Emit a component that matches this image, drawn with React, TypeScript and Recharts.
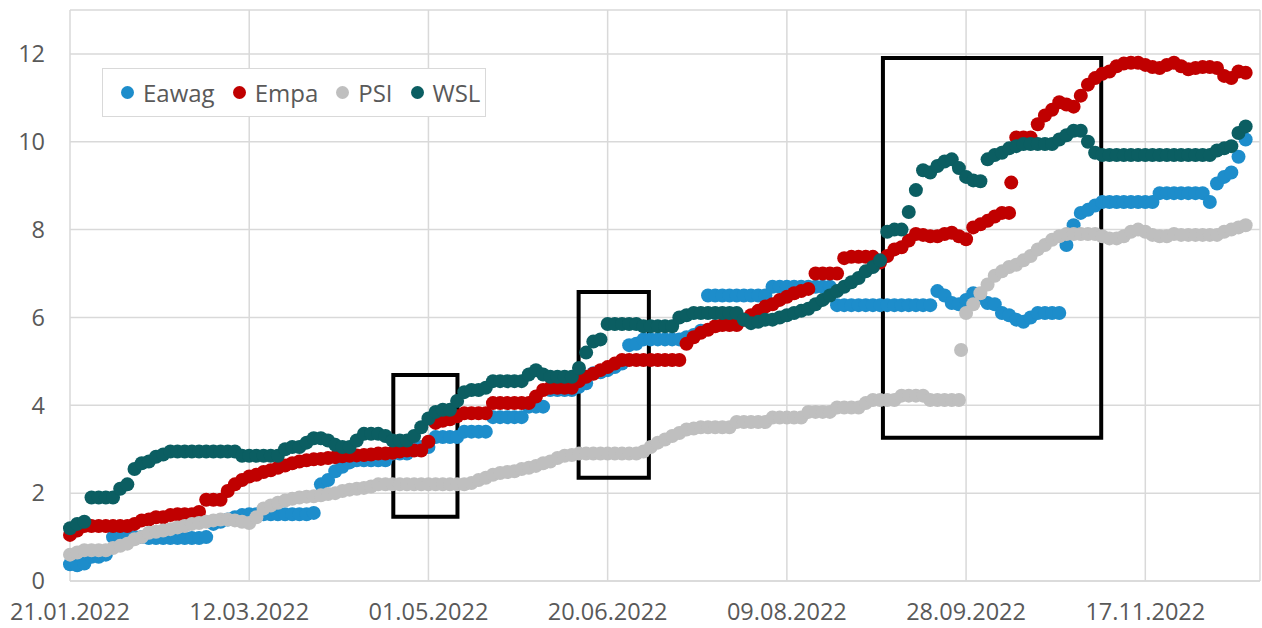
import { CartesianGrid, ReferenceArea, Scatter, ScatterChart, XAxis, YAxis } from "recharts";

// sample days counted from 21.01.2022, one reading every second day
const DAYS = [
  0, 2, 4, 6, 8, 10, 12, 14, 16, 18,
  20, 22, 24, 26, 28, 30, 32, 34, 36, 38,
  40, 42, 44, 46, 48, 50, 52, 54, 56, 58,
  60, 62, 64, 66, 68, 70, 72, 74, 76, 78,
  80, 82, 84, 86, 88, 90, 92, 94, 96, 98,
  100, 102, 104, 106, 108, 110, 112, 114, 116, 118,
  120, 122, 124, 126, 128, 130, 132, 134, 136, 138,
  140, 142, 144, 146, 148, 150, 152, 154, 156, 158,
  160, 162, 164, 166, 168, 170, 172, 174, 176, 178,
  180, 182, 184, 186, 188, 190, 192, 194, 196, 198,
  200, 202, 204, 206, 208, 210, 212, 214, 216, 218,
  220, 222, 224, 226, 228, 230, 232, 234, 236, 238,
  240, 242, 244, 246, 248, 250, 252, 254, 256, 258,
  260, 262, 264, 266, 268, 270, 272, 274, 276, 278,
  280, 282, 284, 286, 288, 290, 292, 294, 296, 298,
  300, 302, 304, 306, 308, 310, 312, 314, 316, 318,
  320, 322, 324, 326, 328,
];

const EAWAG = [
  0.38, 0.36, 0.4, 0.55, 0.55, 0.6, 1.0, 1.0, 1.0, 1.0,
  1.0, 0.98, 0.98, 0.98, 0.98, 0.98, 0.98, 0.98, 0.98, 1.0,
  1.3, 1.35, 1.4, 1.45, 1.5, 1.52, 1.52, 1.52, 1.52, 1.52,
  1.52, 1.52, 1.52, 1.52, 1.55, 2.2, 2.3, 2.5, 2.6, 2.7,
  2.75, 2.75, 2.75, 2.75, 2.75, 2.9, 2.9, 2.9, 3.05, 3.05,
  3.05, 3.28, 3.28, 3.28, 3.28, 3.4, 3.4, 3.4, 3.4, 3.73,
  3.73, 3.73, 3.73, 3.73, 3.97, 3.97, 3.97, 4.35, 4.35, 4.35,
  4.35, 4.42, 4.5, 4.73, 4.75, 4.8, 4.87, 4.95, 5.37, 5.4,
  5.5, 5.5, 5.5, 5.5, 5.5, 5.5, 5.55, 5.6, 5.7, 6.5,
  6.5, 6.5, 6.5, 6.5, 6.5, 6.5, 6.5, 6.5, 6.7, 6.7,
  6.7, 6.7, 6.7, 6.7, 6.7, 6.7, 6.7, 6.28, 6.28, 6.28,
  6.28, 6.28, 6.28, 6.28, 6.28, 6.28, 6.28, 6.28, 6.28, 6.28,
  6.28, 6.6, 6.5, 6.33, 6.3, 6.4, 6.55, 6.45, 6.33, 6.3,
  6.1, 6.05, 5.95, 5.9, 6.0, 6.1, 6.1, 6.1, 6.1, 7.65,
  8.1, 8.38, 8.45, 8.55, 8.63, 8.63, 8.63, 8.63, 8.63, 8.63,
  8.63, 8.63, 8.83, 8.83, 8.83, 8.83, 8.83, 8.83, 8.83, 8.63,
  9.05, 9.2, 9.3, 9.66, 10.05,
];

const EMPA = [
  1.05, 1.15, 1.25, 1.25, 1.25, 1.25, 1.25, 1.25, 1.25, 1.3,
  1.38, 1.4, 1.45, 1.45, 1.5, 1.52, 1.52, 1.52, 1.57, 1.85,
  1.85, 1.85, 2.05, 2.2, 2.3, 2.38, 2.42, 2.48, 2.52, 2.58,
  2.63, 2.68, 2.72, 2.75, 2.77, 2.78, 2.8, 2.82, 2.84, 2.85,
  2.86, 2.87, 2.88, 2.9, 2.9, 2.92, 2.95, 2.97, 2.97, 2.97,
  3.17, 3.6, 3.65, 3.68, 3.75, 3.82, 3.82, 3.82, 3.82, 4.05,
  4.05, 4.05, 4.05, 4.05, 4.05, 4.2, 4.35, 4.4, 4.4, 4.4,
  4.4, 4.55, 4.65, 4.72, 4.8, 4.87, 4.95, 5.03, 5.03, 5.03,
  5.03, 5.03, 5.03, 5.03, 5.03, 5.03, 5.4, 5.55, 5.65, 5.72,
  5.8, 5.83, 5.83, 5.83, 5.95, 6.05, 6.15, 6.25, 6.3, 6.4,
  6.47, 6.55, 6.6, 6.65, 7.0, 7.0, 7.0, 7.0, 7.35, 7.38,
  7.38, 7.38, 7.38, 7.25, 7.4, 7.55, 7.6, 7.75, 7.9, 7.88,
  7.85, 7.85, 7.9, 7.93, 7.85, 7.78, 8.05, 8.12, 8.2, 8.3,
  8.38, 8.38, 10.1, 10.1, 10.1, 10.4, 10.6, 10.73, 10.9, 10.85,
  10.8, 11.05, 11.3, 11.45, 11.55, 11.6, 11.72, 11.78, 11.8, 11.8,
  11.75, 11.7, 11.68, 11.75, 11.8, 11.72, 11.65, 11.68, 11.7, 11.7,
  11.68, 11.5, 11.45, 11.6, 11.57,
];

const PSI = [
  0.6, 0.65, 0.7, 0.7, 0.7, 0.7, 0.75, 0.8, 0.85, 0.95,
  1.0, 1.1, 1.12, 1.15, 1.18, 1.22, 1.25, 1.3, 1.32, 1.35,
  1.38, 1.4, 1.4, 1.38, 1.35, 1.32, 1.45, 1.65, 1.72, 1.78,
  1.83, 1.87, 1.9, 1.92, 1.93, 1.95, 1.98, 2.0, 2.05, 2.08,
  2.1, 2.12, 2.15, 2.2, 2.2, 2.2, 2.2, 2.2, 2.2, 2.2,
  2.2, 2.2, 2.2, 2.2, 2.2, 2.2, 2.23, 2.3, 2.35, 2.42,
  2.46, 2.48, 2.5, 2.55, 2.58, 2.62, 2.68, 2.72, 2.8, 2.85,
  2.87, 2.9, 2.9, 2.9, 2.9, 2.9, 2.9, 2.9, 2.9, 2.9,
  2.95, 3.05, 3.15, 3.22, 3.3, 3.37, 3.45, 3.47, 3.5, 3.5,
  3.5, 3.5, 3.5, 3.62, 3.62, 3.62, 3.62, 3.62, 3.72, 3.72,
  3.72, 3.72, 3.72, 3.85, 3.85, 3.85, 3.85, 3.95, 3.95, 3.95,
  3.95, 4.05, 4.12, 4.12, 4.12, 4.12, 4.22, 4.22, 4.22, 4.22,
  4.12, 4.12, 4.12, 4.12, 4.12, 6.1, 6.3, 6.55, 6.75, 6.95,
  7.05, 7.15, 7.2, 7.3, 7.4, 7.55, 7.65, 7.77, 7.85, 7.9,
  7.9, 7.9, 7.9, 7.9, 7.85, 7.8, 7.8, 7.85, 7.95, 8.0,
  7.95, 7.88, 7.85, 7.85, 7.9, 7.88, 7.88, 7.88, 7.88, 7.88,
  7.88, 7.95, 8.0, 8.05, 8.1,
];

const WSL = [
  1.2, 1.3, 1.35, 1.9, 1.9, 1.9, 1.9, 2.1, 2.2, 2.55,
  2.68, 2.72, 2.83, 2.88, 2.95, 2.95, 2.95, 2.95, 2.95, 2.95,
  2.95, 2.95, 2.95, 2.95, 2.85, 2.85, 2.85, 2.85, 2.85, 2.85,
  3.0, 3.05, 3.05, 3.15, 3.25, 3.25, 3.2, 3.1, 3.05, 3.05,
  3.2, 3.35, 3.35, 3.35, 3.3, 3.2, 3.2, 3.2, 3.3, 3.5,
  3.7, 3.85, 3.9, 3.9, 4.1, 4.3, 4.35, 4.35, 4.4, 4.55,
  4.55, 4.55, 4.55, 4.55, 4.7, 4.8, 4.7, 4.65, 4.65, 4.65,
  4.65, 4.85, 5.2, 5.45, 5.5, 5.85, 5.85, 5.85, 5.85, 5.85,
  5.8, 5.8, 5.8, 5.8, 5.8, 6.0, 6.05, 6.1, 6.1, 6.1,
  6.1, 6.1, 6.1, 6.1, 5.95, 5.87, 5.9, 5.95, 5.95, 6.0,
  6.05, 6.1, 6.15, 6.2, 6.3, 6.4, 6.5, 6.6, 6.7, 6.8,
  6.9, 7.05, 7.15, 7.3, 7.95, 8.0, 8.0, 8.4, 8.9, 9.35,
  9.3, 9.45, 9.55, 9.6, 9.4, 9.2, 9.12, 9.1, 9.6, 9.7,
  9.75, 9.85, 9.9, 9.95, 9.95, 9.95, 9.95, 9.95, 10.05, 10.15,
  10.25, 10.25, 10.0, 9.75, 9.7, 9.7, 9.7, 9.7, 9.7, 9.7,
  9.7, 9.7, 9.7, 9.7, 9.7, 9.7, 9.7, 9.7, 9.7, 9.7,
  9.8, 9.85, 9.9, 10.2, 10.35,
];

// lone readings between the regular samples: [day, value]
const EMPA_EXTRA = [[262.6, 9.07]];
const PSI_EXTRA = [[248.6, 5.26]];

const X_TICKS = [0, 50, 100, 150, 200, 250, 300];
const Y_TICKS = [0, 2, 4, 6, 8, 10, 12];

// highlighted periods: [fromDay, toDay, low, high]
const BOXES = [
  [90.2, 108.1, 1.46, 4.69],
  [141.9, 161.5, 2.35, 6.58],
  [226.8, 287.7, 3.26, 11.91],
];

const SERIES = [
  { name: "Eawag", color: "#1d8dcb", values: EAWAG, extra: [] as number[][] },
  { name: "Empa", color: "#c00000", values: EMPA, extra: EMPA_EXTRA },
  { name: "PSI", color: "#bfbfbf", values: PSI, extra: PSI_EXTRA },
  { name: "WSL", color: "#0b5e62", values: WSL, extra: [] as number[][] },
];

const FONT = "'Open Sans', 'DejaVu Sans', sans-serif";
const TEXT = "#595959";
const GRID = "#d9d9d9";
const DOT_R = 7;

function toPoints(values: (number | null)[], extra: number[][]) {
  const points = DAYS.map((day, i) => ({ day, v: values[i] })).filter((p) => p.v != null);
  return points.concat(extra.map(([day, v]) => ({ day, v })));
}

function formatDay(day: number) {
  const d = new Date(Date.UTC(2022, 0, 21 + day));
  const dd = String(d.getUTCDate()).padStart(2, "0");
  const mm = String(d.getUTCMonth() + 1).padStart(2, "0");
  return `${dd}.${mm}.${d.getUTCFullYear()}`;
}

function Legend() {
  return (
    <div
      style={{
        position: "absolute",
        left: 102,
        top: 68,
        width: 384,
        height: 49,
        boxSizing: "border-box",
        border: `1.5px solid ${GRID}`,
        background: "#fff",
        display: "flex",
        alignItems: "center",
        paddingLeft: 18,
        fontFamily: FONT,
        fontSize: 24,
        color: TEXT,
      }}
    >
      {SERIES.map((s) => (
        <div key={s.name} style={{ display: "flex", alignItems: "center", marginRight: 18 }}>
          <span
            style={{
              width: 13,
              height: 13,
              borderRadius: "50%",
              background: s.color,
              marginRight: 9,
              display: "inline-block",
            }}
          />
          <span>{s.name}</span>
        </div>
      ))}
    </div>
  );
}

export default function App() {
  const tickStyle = { fill: TEXT, fontSize: 23.5, fontFamily: FONT };
  return (
    <div style={{ position: "absolute", left: 0, top: 0, width: 1262, height: 628, background: "#fff" }}>
      <ScatterChart width={1262} height={628} margin={{ top: 10, right: 2, bottom: 0, left: 0 }}>
        <CartesianGrid stroke={GRID} strokeWidth={1.5} />
        <XAxis
          type="number"
          dataKey="day"
          domain={[0, 332]}
          ticks={X_TICKS}
          interval={0}
          tickFormatter={formatDay}
          tick={tickStyle}
          tickLine={false}
          tickSize={0}
          tickMargin={22}
          height={47}
          axisLine={{ stroke: GRID, strokeWidth: 1.5 }}
        />
        <YAxis
          type="number"
          dataKey="v"
          domain={[0, 13]}
          ticks={Y_TICKS}
          interval={0}
          tick={tickStyle}
          tickLine={false}
          tickSize={0}
          tickMargin={25}
          width={70}
          axisLine={false}
        />
        {SERIES.map((s) => (
          <Scatter
            key={s.name}
            name={s.name}
            data={toPoints(s.values, s.extra)}
            fill={s.color}
            isAnimationActive={false}
            shape={(p: any) => <circle cx={p.cx} cy={p.cy} r={DOT_R} fill={s.color} />}
          />
        ))}
        {BOXES.map(([x1, x2, y1, y2], i) => (
          <ReferenceArea
            key={i}
            x1={x1}
            x2={x2}
            y1={y1}
            y2={y2}
            fill="none"
            fillOpacity={0}
            stroke="#000"
            strokeWidth={4}
            ifOverflow="visible"
          />
        ))}
      </ScatterChart>
      <Legend />
    </div>
  );
}
